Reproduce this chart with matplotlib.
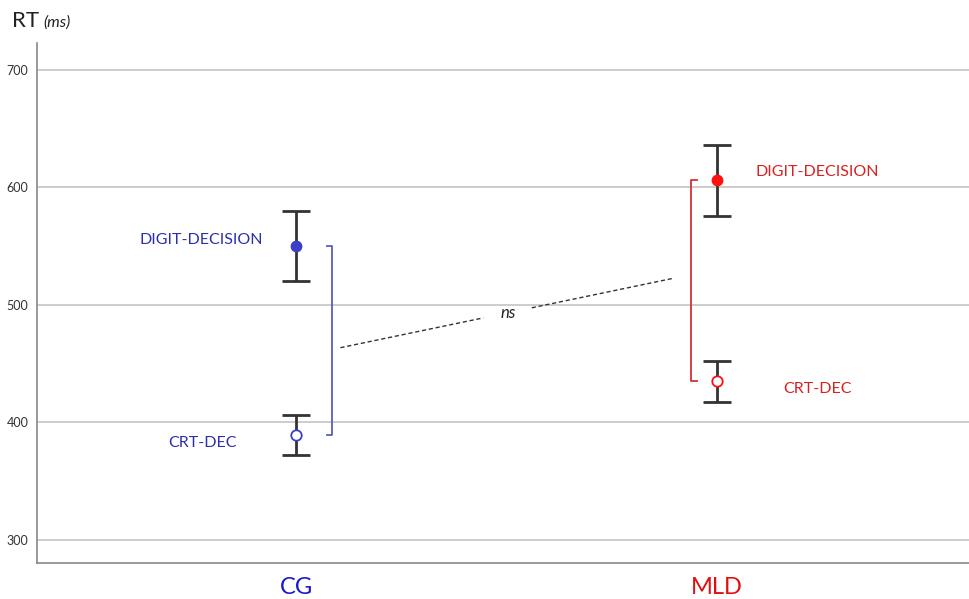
import matplotlib.pyplot as plt

# group means and error bars (ms)
groups = ["CG", "MLD"]
group_x = [1, 2]
digit_mean = [550, 606]
digit_err = [30, 30]
crt_mean = [389, 435]
crt_err = [17, 17.5]
yticks = [300, 400, 500, 600, 700]

blue = "#3b40c8"
red = "#ff1010"
blue_txt = "#2a2fb0"
red_txt = "#d82020"
grid_c = "#c8c8c8"

plt.rcParams['font.family'] = ['Lato', 'DejaVu Sans']

fig = plt.figure(figsize=(9.69, 5.99), dpi=100)
ax = fig.add_axes([0.038, 0.060, 0.962, 0.868])

for y in yticks:
    ax.axhline(y, color=grid_c, lw=1.3, zorder=0)

# error bars
ax.errorbar(group_x, digit_mean, yerr=digit_err, fmt='none', ecolor='#333333',
            elinewidth=2, capsize=10, capthick=2, zorder=3)
ax.errorbar(group_x, crt_mean, yerr=crt_err, fmt='none', ecolor='#333333',
            elinewidth=2, capsize=10, capthick=2, zorder=3)

# means
ax.plot(group_x[0], digit_mean[0], 'o', ms=7.5, color=blue, zorder=4)
ax.plot(group_x[1], digit_mean[1], 'o', ms=7.5, color=red, zorder=4)
ax.plot(group_x[0], crt_mean[0], 'o', ms=7.5, mfc='white', mec=blue, mew=1.3, zorder=4)
ax.plot(group_x[1], crt_mean[1], 'o', ms=7.5, mfc='white', mec=red, mew=1.3, zorder=4)

# brackets between the two conditions
bx = 1.086
ax.plot([bx - 0.012, bx, bx, bx - 0.012], [digit_mean[0], digit_mean[0], crt_mean[0], crt_mean[0]],
        color="#5a5ec0", lw=1.3, zorder=2)
rx = 1.94
ax.plot([rx + 0.014, rx, rx, rx + 0.014], [digit_mean[1], digit_mean[1], crt_mean[1], crt_mean[1]],
        color="#d83030", lw=1.3, zorder=2)

# dashed line between bracket midpoints, broken around the "ns" label
x0, x1 = 1.105, 1.895
y0 = (digit_mean[0] + crt_mean[0]) / 2 - 6
y1 = (digit_mean[1] + crt_mean[1]) / 2 + 2
gap_a, gap_b = 1.445, 1.56
ya = y0 + (y1 - y0) * (gap_a - x0) / (x1 - x0)
yb = y0 + (y1 - y0) * (gap_b - x0) / (x1 - x0)
ax.plot([x0, gap_a], [y0, ya], ls=(0, (3, 2)), color='#333333', lw=1, zorder=1)
ax.plot([gap_b, x1], [yb, y1], ls=(0, (3, 2)), color='#333333', lw=1, zorder=1)
ax.text(1.505, 493, "ns", style='italic', fontsize=12, ha='center', va='center',
        color='#222222', zorder=5)

# condition labels
ax.text(0.774, 555, "DIGIT-DECISION", color=blue_txt, fontsize=11.5, ha='center', va='center')
ax.text(0.776, 382, "CRT-DEC", color=blue_txt, fontsize=11.5, ha='center', va='center')
ax.text(2.24, 613, "DIGIT-DECISION", color=red_txt, fontsize=11.5, ha='center', va='center')
ax.text(2.24, 428.5, "CRT-DEC", color=red_txt, fontsize=11.5, ha='center', va='center')

ax.set_xlim(0.383, 2.6)
ax.set_ylim(280, 723)
ax.set_yticks(yticks)
ax.tick_params(axis='y', length=0, labelsize=9, labelcolor='#333333', pad=6)
ax.set_xticks(group_x)
ax.set_xticklabels(groups, fontsize=17)
ax.tick_params(axis='x', length=0, pad=10)
ax.get_xticklabels()[0].set_color("#1a1ac8")
ax.get_xticklabels()[1].set_color("#e01010")

for s in ['top', 'right']:
    ax.spines[s].set_visible(False)
for s in ['left', 'bottom']:
    ax.spines[s].set_color('#888888')
    ax.spines[s].set_linewidth(1.2)

fig.text(0.012, 0.965, "RT", fontsize=16, color='#222222', va='center')
fig.text(0.045, 0.962, "(ms)", fontsize=11.5, style='italic', color='#222222', va='center')

fig.savefig("out.png", dpi=100, facecolor='white')
